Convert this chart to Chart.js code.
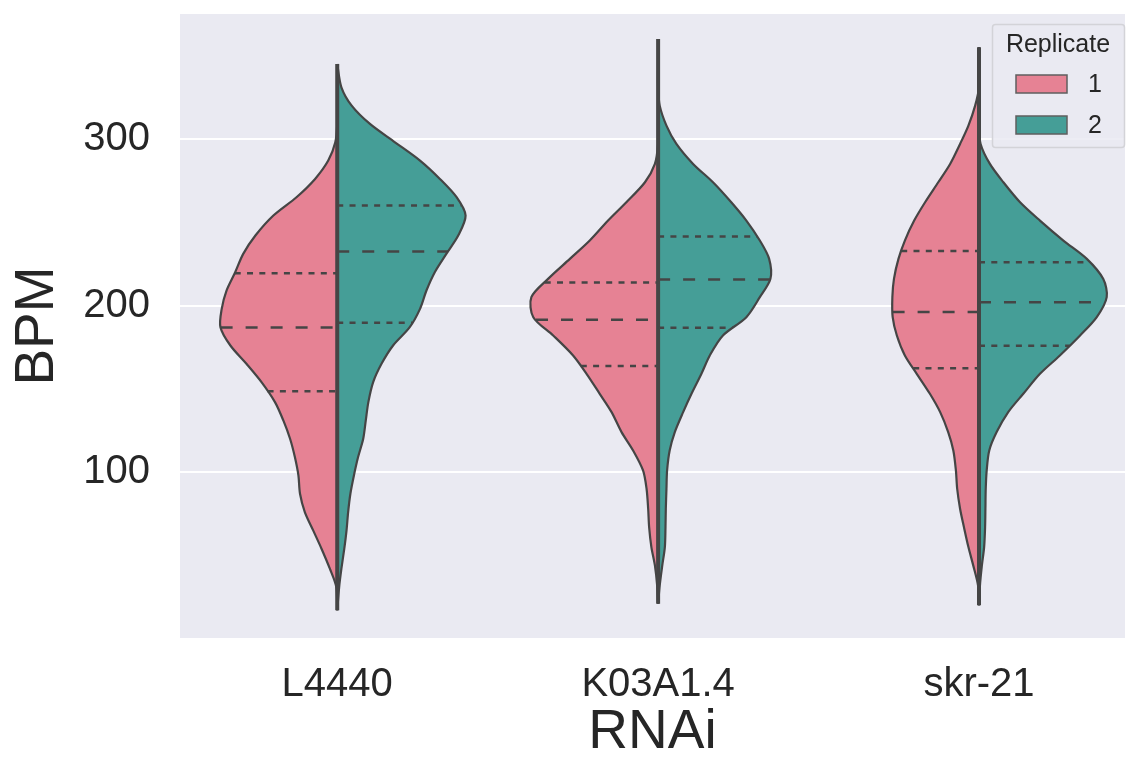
<!DOCTYPE html>
<html>
<head>
<meta charset="utf-8">
<script src="https://cdn.jsdelivr.net/npm/chart.js@4.4.1/dist/chart.umd.min.js"></script>
<style>
  html, body { margin: 0; padding: 0; background: #ffffff; }
  #wrap { width: 1126px; height: 757px; }
</style>
</head>
<body>
<div id="wrap"><canvas id="c" width="1126" height="757"></canvas></div>
<script>
// Heart rate (BPM) per RNAi treatment, split by replicate.
const categories = ['L4440', 'K03A1.4', 'skr-21'];
const replicates = ['1', '2'];
const yTicks = [100, 200, 300];

// Kernel density half-widths (in category-axis units) sampled at BPM levels.
const l4440Bpm  = [345, 331, 320, 309, 298, 287, 276, 265, 254, 242, 231, 220, 209, 198, 187, 176, 165, 154, 142, 131, 120, 109, 98, 87, 76, 65, 54, 42, 31, 17];
const l4440Rep1 = [0, 0, 0, 0, 0.006, 0.028, 0.069, 0.127, 0.199, 0.255, 0.293, 0.318, 0.345, 0.360, 0.364, 0.333, 0.283, 0.236, 0.194, 0.168, 0.147, 0.132, 0.121, 0.116, 0.101, 0.075, 0.049, 0.023, 0.003, 0];
const l4440Rep2 = [0, 0.013, 0.045, 0.102, 0.180, 0.258, 0.320, 0.372, 0.400, 0.377, 0.340, 0.304, 0.278, 0.258, 0.226, 0.174, 0.138, 0.112, 0.097, 0.089, 0.081, 0.065, 0.052, 0.041, 0.034, 0.029, 0.022, 0.013, 0.006, 0];

const k03Bpm  = [360, 343, 331, 320, 308, 297, 285, 274, 262, 251, 239, 228, 216, 205, 193, 182, 170, 159, 147, 136, 124, 113, 101, 90, 78, 67, 55, 44, 32, 21];
const k03Rep1 = [0, 0, 0, 0, 0, 0, 0.010, 0.041, 0.099, 0.156, 0.213, 0.275, 0.343, 0.395, 0.389, 0.327, 0.265, 0.223, 0.182, 0.145, 0.114, 0.078, 0.047, 0.036, 0.031, 0.028, 0.021, 0.010, 0.003, 0];
const k03Rep2 = [0, 0, 0, 0.005, 0.026, 0.057, 0.109, 0.171, 0.228, 0.275, 0.317, 0.346, 0.350, 0.317, 0.275, 0.202, 0.161, 0.135, 0.104, 0.078, 0.052, 0.036, 0.028, 0.026, 0.024, 0.023, 0.021, 0.013, 0.005, 0];

const skrBpm  = [355, 343, 331, 320, 308, 297, 285, 274, 262, 251, 239, 228, 216, 205, 193, 182, 170, 159, 147, 136, 124, 113, 101, 90, 78, 67, 55, 44, 32, 20];
const skrRep1 = [0, 0, 0, 0.012, 0.033, 0.059, 0.090, 0.127, 0.168, 0.202, 0.231, 0.251, 0.265, 0.270, 0.269, 0.256, 0.231, 0.194, 0.153, 0.121, 0.096, 0.080, 0.072, 0.068, 0.059, 0.047, 0.033, 0.018, 0.003, 0];
const skrRep2 = [0, 0, 0, 0, 0, 0.005, 0.034, 0.076, 0.128, 0.190, 0.263, 0.336, 0.387, 0.398, 0.367, 0.315, 0.252, 0.190, 0.138, 0.091, 0.055, 0.032, 0.024, 0.021, 0.020, 0.019, 0.016, 0.009, 0.003, 0];

// Quartiles [Q1, median, Q3] per replicate.
const l4440Quart1 = [148.6, 186.8, 219.4];
const l4440Quart2 = [189.7, 232.4, 260.1];
const k03Quart1   = [163.7, 191.5, 213.8];
const k03Quart2   = [186.7, 215.6, 241.4];
const skrQuart1   = [162.3, 196.1, 232.7];
const skrQuart2   = [175.9, 201.9, 226.0];

const FONT = "'Liberation Sans', Arial, 'DejaVu Sans', sans-serif";
const TEXT = '#262626';
const EDGE = '#454545';
const FILLS = ['#E68294', '#459E97'];

const violins = [
  { bpm: l4440Bpm, widths: [l4440Rep1, l4440Rep2], quarts: [l4440Quart1, l4440Quart2] },
  { bpm: k03Bpm,   widths: [k03Rep1, k03Rep2],     quarts: [k03Quart1, k03Quart2] },
  { bpm: skrBpm,   widths: [skrRep1, skrRep2],     quarts: [skrQuart1, skrQuart2] }
];

// Linear interpolation of a half-width at a BPM value (levels are descending).
function widthAt(levels, widths, v) {
  for (let i = 0; i < levels.length - 1; i++) {
    const a = levels[i], b = levels[i + 1];
    if (v <= a && v >= b) {
      const t = (a - v) / (a - b);
      return widths[i] + t * (widths[i + 1] - widths[i]);
    }
  }
  return 0;
}

const datasets = [];
violins.forEach((v, ci) => {
  v.widths.forEach((w, r) => {
    const side = r === 0 ? -1 : 1;
    datasets.push({
      label: categories[ci] + ' / ' + replicates[r],
      data: v.bpm.map((b, i) => ({ x: ci + side * w[i], y: b })),
      showLine: true,
      fill: 'shape',
      backgroundColor: FILLS[r],
      borderColor: EDGE,
      borderWidth: 2.2,
      tension: 0.3,
      pointRadius: 0,
      order: 3
    });
  });
  // Shared split edge along the category centre
  datasets.push({
    data: [{ x: ci, y: Math.max(...v.bpm) }, { x: ci, y: Math.min(...v.bpm) }],
    showLine: true, fill: false, borderColor: EDGE, borderWidth: 4,
    pointRadius: 0, order: 2
  });
  // Quartile lines: dashed median, dotted Q1/Q3
  v.quarts.forEach((q, r) => {
    const side = r === 0 ? -1 : 1;
    q.forEach((val, k) => {
      const wq = widthAt(v.bpm, v.widths[r], val);
      const pts = side < 0
        ? [{ x: ci - wq, y: val }, { x: ci, y: val }]
        : [{ x: ci, y: val }, { x: ci + wq, y: val }];
      datasets.push({
        data: pts, showLine: true, fill: false, borderColor: EDGE,
        borderWidth: 2.5, borderDash: k === 1 ? [12, 13] : [6, 6.3],
        pointRadius: 0, order: 1
      });
    });
  });
});

const backdrop = {
  id: 'backdrop',
  beforeDraw(chart) {
    const { ctx, chartArea: a } = chart;
    ctx.save();
    ctx.fillStyle = '#ffffff';
    ctx.fillRect(0, 0, chart.width, chart.height);
    ctx.fillStyle = '#EAEAF2';
    ctx.fillRect(a.left, a.top, a.right - a.left, a.bottom - a.top);
    ctx.restore();
  }
};

const replicateLegend = {
  id: 'replicateLegend',
  afterDraw(chart) {
    const { ctx, chartArea: a } = chart;
    const bx = a.right - 133, by = a.top + 10, bw = 132, bh = 123;
    ctx.save();
    ctx.fillStyle = 'rgba(234,234,242,0.85)';
    ctx.strokeStyle = '#d3d3d8';
    ctx.lineWidth = 1.5;
    ctx.beginPath();
    ctx.roundRect(bx + 0.5, by + 0.5, bw, bh, 3);
    ctx.fill();
    ctx.stroke();
    ctx.fillStyle = TEXT;
    ctx.font = '25px ' + FONT;
    ctx.textAlign = 'center';
    ctx.textBaseline = 'middle';
    ctx.fillText('Replicate', bx + bw / 2, by + 21);
    replicates.forEach((lab, i) => {
      const py = by + 51 + i * 41;
      ctx.fillStyle = FILLS[i];
      ctx.fillRect(bx + 24, py, 51, 18);
      ctx.strokeStyle = '#5f5f5f';
      ctx.lineWidth = 1.5;
      ctx.strokeRect(bx + 24, py, 51, 18);
      ctx.fillStyle = TEXT;
      ctx.textAlign = 'left';
      ctx.fillText(lab, bx + 96, py + 10);
    });
    ctx.restore();
  }
};

new Chart(document.getElementById('c'), {
  type: 'scatter',
  data: { datasets },
  plugins: [backdrop, replicateLegend],
  options: {
    responsive: false,
    animation: false,
    events: [],
    layout: { padding: { top: 14, right: 1, left: 0, bottom: 0 } },
    plugins: { legend: { display: false }, tooltip: { enabled: false } },
    scales: {
      x: {
        type: 'linear', min: -0.49, max: 2.455,
        grid: { display: false }, border: { display: false },
        afterBuildTicks: s => { s.ticks = categories.map((_, i) => ({ value: i })); },
        afterFit: s => { s.height = 119; s.paddingLeft = 0; s.paddingRight = 0; },
        ticks: {
          font: { size: 40, family: FONT }, color: TEXT, padding: 15,
          maxRotation: 0, autoSkip: false,
          callback: v => categories[v] ?? ''
        },
        title: {
          display: true, text: 'RNAi', color: TEXT,
          font: { size: 55, family: FONT, lineHeight: 0.8 },
          padding: { top: 0, bottom: 2 }
        }
      },
      y: {
        type: 'linear', min: 0.4, max: 375,
        grid: { color: '#ffffff', lineWidth: 2, drawTicks: false },
        border: { display: false },
        afterBuildTicks: s => { s.ticks = yTicks.map(v => ({ value: v })); },
        afterFit: s => { s.width = 180; s.paddingTop = 0; s.paddingBottom = 0; },
        ticks: { font: { size: 40, family: FONT }, color: TEXT, padding: 30, callback: v => String(v) },
        title: {
          display: true, text: 'BPM', color: TEXT,
          font: { size: 55, family: FONT, lineHeight: 1.2 },
          padding: { top: 5, bottom: 0 }
        }
      }
    }
  }
});
</script>
</body>
</html>
